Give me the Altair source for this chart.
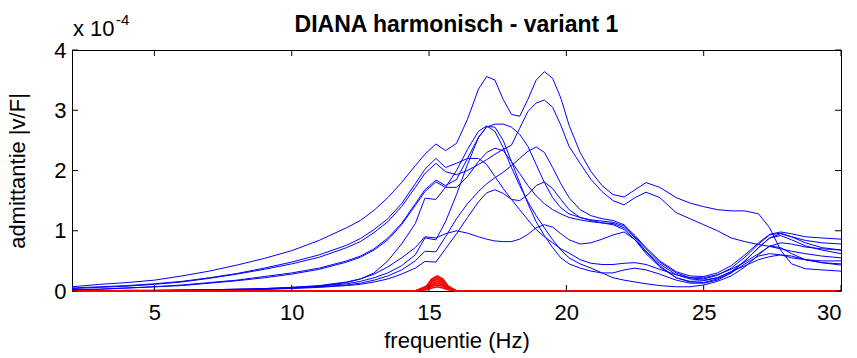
import altair as alt
import pandas as pd

# frequency grid (Hz) for the blue responses
freq = [2, 3, 4, 5, 6, 7, 8, 9, 10, 11, 12, 12.5, 13, 13.5, 14, 14.5, 14.85, 15.25, 15.6, 16,
        16.4, 16.8, 17.1, 17.4, 17.7, 18, 18.3, 18.6, 18.9, 19.2, 19.5, 19.8, 20.1, 20.5, 20.9,
        21.3, 21.7, 22.1, 22.5, 22.9, 23.4, 24, 24.5, 25, 25.5, 26, 26.5, 27, 27.4, 27.8, 28.2,
        28.7, 29.3, 30]

# admittance values in units of 1e-4
curve_a = [0.07, 0.11, 0.14, 0.18, 0.25, 0.33, 0.43, 0.54, 0.67, 0.84, 1.05, 1.17, 1.34, 1.55, 1.8, 2.08,
           2.27, 2.44, 2.33, 2.45, 2.85, 3.35, 3.56, 3.5, 3.18, 2.93, 2.9, 3.18, 3.5, 3.64, 3.53, 3.2,
           2.75, 2.3, 1.98, 1.75, 1.6, 1.56, 1.68, 1.8, 1.72, 1.55, 1.46, 1.4, 1.35, 1.33, 1.33, 1.28,
           1.05, 0.68, 0.45, 0.37, 0.35, 0.33]
curve_b = [0.04, 0.06, 0.08, 0.11, 0.15, 0.21, 0.28, 0.36, 0.45, 0.56, 0.72, 0.82, 0.97, 1.15, 1.4, 1.72,
           1.95, 2.12, 1.98, 1.93, 2.0, 2.1, 2.18, 2.27, 2.35, 2.42, 2.7, 2.98, 3.12, 3.17, 3.05, 2.75,
           2.4, 2.12, 1.85, 1.65, 1.5, 1.43, 1.55, 1.64, 1.55, 1.3, 1.2, 1.1, 1.0, 0.88, 0.82, 0.77,
           0.74, 0.7, 0.66, 0.62, 0.58, 0.55]
curve_c = [0.0, 0.0, 0.0, 0.0, 0.01, 0.01, 0.02, 0.03, 0.05, 0.08, 0.14, 0.2, 0.3, 0.5, 0.78, 1.12,
           1.54, 1.52, 1.72, 2.0, 2.35, 2.65, 2.74, 2.65, 2.38, 2.05, 1.75, 1.48, 1.25, 1.05, 0.85, 0.68,
           0.55, 0.45, 0.38, 0.3, 0.22, 0.18, 0.15, 0.12, 0.09, 0.07, 0.07, 0.1, 0.16, 0.25, 0.4, 0.6,
           0.75, 0.72, 0.62, 0.52, 0.47, 0.45]
curve_d = [0.02, 0.03, 0.05, 0.07, 0.1, 0.14, 0.18, 0.24, 0.3, 0.38, 0.5, 0.58, 0.7, 0.88, 1.12, 1.45,
           1.68, 1.84, 1.75, 1.85, 2.2, 2.55, 2.72, 2.77, 2.77, 2.72, 2.6, 2.4, 2.1, 1.8, 1.55, 1.38,
           1.28, 1.22, 1.18, 1.16, 1.14, 1.08, 0.9, 0.7, 0.48, 0.3, 0.22, 0.2, 0.26, 0.38, 0.56, 0.78,
           0.93, 0.96, 0.9, 0.84, 0.8, 0.78]
curve_e = [0.01, 0.01, 0.01, 0.01, 0.02, 0.02, 0.03, 0.04, 0.06, 0.08, 0.12, 0.16, 0.22, 0.3, 0.42, 0.6,
           0.88, 0.85, 1.15, 1.6, 2.1, 2.55, 2.73, 2.72, 2.5, 2.15, 1.8, 1.45, 1.15, 0.92, 0.72, 0.55,
           0.45, 0.38, 0.33, 0.3, 0.3, 0.35, 0.38, 0.35, 0.28, 0.18, 0.13, 0.13, 0.18, 0.3, 0.5, 0.72,
           0.88, 0.95, 0.9, 0.8, 0.72, 0.68]
curve_f = [0.0, 0.0, 0.01, 0.01, 0.01, 0.02, 0.02, 0.03, 0.05, 0.07, 0.1, 0.13, 0.18, 0.25, 0.35, 0.5,
           0.66, 0.65, 0.9, 1.2, 1.45, 1.65, 1.78, 1.88, 1.97, 2.08, 2.2, 2.32, 2.39, 2.3, 2.05, 1.78,
           1.55, 1.35, 1.25, 1.2, 1.17, 1.1, 0.92, 0.72, 0.5, 0.32, 0.25, 0.24, 0.3, 0.42, 0.6, 0.8,
           0.94, 0.98, 0.95, 0.9, 0.88, 0.86]
curve_g = [0.02, 0.03, 0.05, 0.07, 0.09, 0.13, 0.17, 0.22, 0.28, 0.36, 0.48, 0.56, 0.68, 0.85, 1.1, 1.42,
           1.65, 1.81, 1.72, 1.72, 1.9, 2.15, 2.3, 2.37, 2.33, 2.15, 1.95, 1.75, 1.58, 1.45, 1.35, 1.28,
           1.22, 1.18, 1.15, 1.13, 1.12, 1.05, 0.88, 0.66, 0.45, 0.27, 0.2, 0.18, 0.22, 0.32, 0.5, 0.72,
           0.88, 0.92, 0.85, 0.75, 0.68, 0.62]
curve_h = [0.05, 0.07, 0.09, 0.12, 0.16, 0.22, 0.29, 0.38, 0.48, 0.6, 0.76, 0.87, 1.02, 1.2, 1.45, 1.78,
           2.02, 2.2, 2.05, 2.12, 2.2, 2.2, 2.1, 1.9, 1.7, 1.52, 1.35, 1.18, 1.02, 0.9, 0.8, 0.7,
           0.63, 0.52, 0.46, 0.44, 0.44, 0.46, 0.47, 0.44, 0.36, 0.27, 0.22, 0.22, 0.27, 0.36, 0.48, 0.62,
           0.74, 0.8, 0.78, 0.73, 0.7, 0.68]
curve_i = [0.0, 0.0, 0.0, 0.01, 0.01, 0.01, 0.02, 0.03, 0.04, 0.06, 0.09, 0.11, 0.15, 0.2, 0.28, 0.38,
           0.49, 0.48, 0.7, 0.95, 1.22, 1.48, 1.63, 1.68, 1.62, 1.52, 1.5, 1.6, 1.75, 1.81, 1.7, 1.52,
           1.35, 1.22, 1.17, 1.13, 1.1, 1.02, 0.85, 0.62, 0.4, 0.22, 0.15, 0.14, 0.2, 0.3, 0.45, 0.58,
           0.62, 0.6, 0.55, 0.52, 0.5, 0.5]
curve_j = [0.0, 0.0, 0.01, 0.01, 0.01, 0.02, 0.03, 0.04, 0.06, 0.09, 0.15, 0.2, 0.28, 0.4, 0.55, 0.72,
           0.9, 0.88, 0.95, 1.0, 0.96, 0.9, 0.86, 0.83, 0.82, 0.82, 0.86, 0.94, 1.05, 1.1, 1.06, 0.95,
           0.85, 0.78, 0.8, 0.86, 0.93, 0.98, 0.85, 0.65, 0.42, 0.22, 0.16, 0.17, 0.22, 0.32, 0.42, 0.52,
           0.57, 0.6, 0.58, 0.52, 0.47, 0.43]

# red responses
red_freq = [2, 14.5, 14.9, 15.1, 15.3, 15.5, 15.7, 16.0, 30]
red_1 = [0, 0, 0.08, 0.2, 0.25, 0.2, 0.08, 0, 0]
red_2 = [0, 0, 0.07, 0.17, 0.22, 0.17, 0.07, 0, 0]
red_3 = [0, 0, 0.06, 0.15, 0.19, 0.15, 0.06, 0, 0]
red_4 = [0, 0, 0.05, 0.12, 0.16, 0.12, 0.05, 0, 0]
red_5 = [0, 0, 0.04, 0.1, 0.13, 0.1, 0.04, 0, 0]
red_6 = [0, 0, 0.03, 0.08, 0.1, 0.08, 0.03, 0, 0]
red_7 = [0, 0, 0.02, 0.05, 0.07, 0.05, 0.02, 0, 0]

x_ticks = [5, 10, 15, 20, 25, 30]
y_ticks = [0, 1, 2, 3, 4]
title_text = "DIANA harmonisch - variant 1"
x_title = "frequentie (Hz)"
y_title = "admittantie |v/F|"

W, H = 769, 241
FONT = "Liberation Sans"
FS = 22

blue_rows = []
for name, vals in [("a", curve_a), ("b", curve_b), ("c", curve_c), ("d", curve_d), ("e", curve_e),
                   ("f", curve_f), ("g", curve_g), ("h", curve_h), ("i", curve_i), ("j", curve_j)]:
    for f, v in zip(freq, vals):
        blue_rows.append({"s": name, "f": f, "v": v})
blue_df = pd.DataFrame(blue_rows)

red_rows = []
for k, vals in enumerate([red_1, red_2, red_3, red_4, red_5, red_6, red_7]):
    for f, v in zip(red_freq, vals):
        red_rows.append({"s": "r%d" % k, "f": f, "v": v})
red_df = pd.DataFrame(red_rows)

xscale = alt.Scale(domain=[2, 30], nice=False, zero=False)
yscale = alt.Scale(domain=[0, 4], nice=False, zero=True)

xaxis = alt.Axis(values=x_ticks, ticks=False, domain=False, grid=False, labelFontSize=FS,
                 labelPadding=11, labelFont=FONT, labelColor="black", title=x_title,
                 titleFont=FONT, titleFontSize=FS, titleFontWeight="normal", titleColor="black",
                 titlePadding=7)
yaxis = alt.Axis(values=y_ticks, ticks=False, domain=False, grid=False, labelFontSize=FS,
                 labelPadding=6, labelFont=FONT, labelColor="black", title=y_title,
                 titleFont=FONT, titleFontSize=FS, titleFontWeight="normal", titleColor="black",
                 titlePadding=24)

X = alt.X("f:Q", scale=xscale, axis=xaxis)
Y = alt.Y("v:Q", scale=yscale, axis=yaxis)

blue = alt.Chart(blue_df).mark_line(color="#0000ff", strokeWidth=1).encode(
    x=X, y=Y, detail="s:N", order="f:Q")
red = alt.Chart(red_df).mark_line(color="#ff0000", strokeWidth=1.6).encode(
    x=X, y=Y, detail="s:N", order="f:Q")

xt = pd.DataFrame({"f": x_ticks})
yt = pd.DataFrame({"v": y_ticks})
tick_bottom = alt.Chart(xt).mark_rule(color="black", strokeWidth=1).encode(
    x=X, y=alt.value(H), y2=alt.value(H - 6))
tick_top = alt.Chart(xt).mark_rule(color="black", strokeWidth=1).encode(
    x=X, y=alt.value(0), y2=alt.value(6))
tick_left = alt.Chart(yt).mark_rule(color="black", strokeWidth=1).encode(
    y=Y, x=alt.value(0), x2=alt.value(6))
tick_right = alt.Chart(yt).mark_rule(color="black", strokeWidth=1).encode(
    y=Y, x=alt.value(W), x2=alt.value(W - 6))

title = alt.Chart(pd.DataFrame({"t": [title_text]})).mark_text(
    font=FONT, fontSize=23, fontWeight="bold", align="center", baseline="alphabetic", color="black"
).encode(x=alt.value(W / 2), y=alt.value(-18), text="t:N")
mult = alt.Chart(pd.DataFrame({"t": ["x 10"]})).mark_text(
    font=FONT, fontSize=FS, align="left", baseline="alphabetic", color="black"
).encode(x=alt.value(1), y=alt.value(-14), text="t:N")
expo = alt.Chart(pd.DataFrame({"t": ["-4"]})).mark_text(
    font=FONT, fontSize=15, align="left", baseline="alphabetic", color="black"
).encode(x=alt.value(44), y=alt.value(-25), text="t:N")

chart = alt.layer(blue, red, tick_bottom, tick_top, tick_left, tick_right, title, mult, expo).properties(
    width=W, height=H,
    autosize=alt.AutoSizeParams(type="none"),
    padding={"left": 72, "top": 50, "right": 16, "bottom": 67},
    background="white",
).configure_view(stroke="black", strokeWidth=1)

chart.save("out.html", embed_options={"renderer": "svg", "actions": False})
